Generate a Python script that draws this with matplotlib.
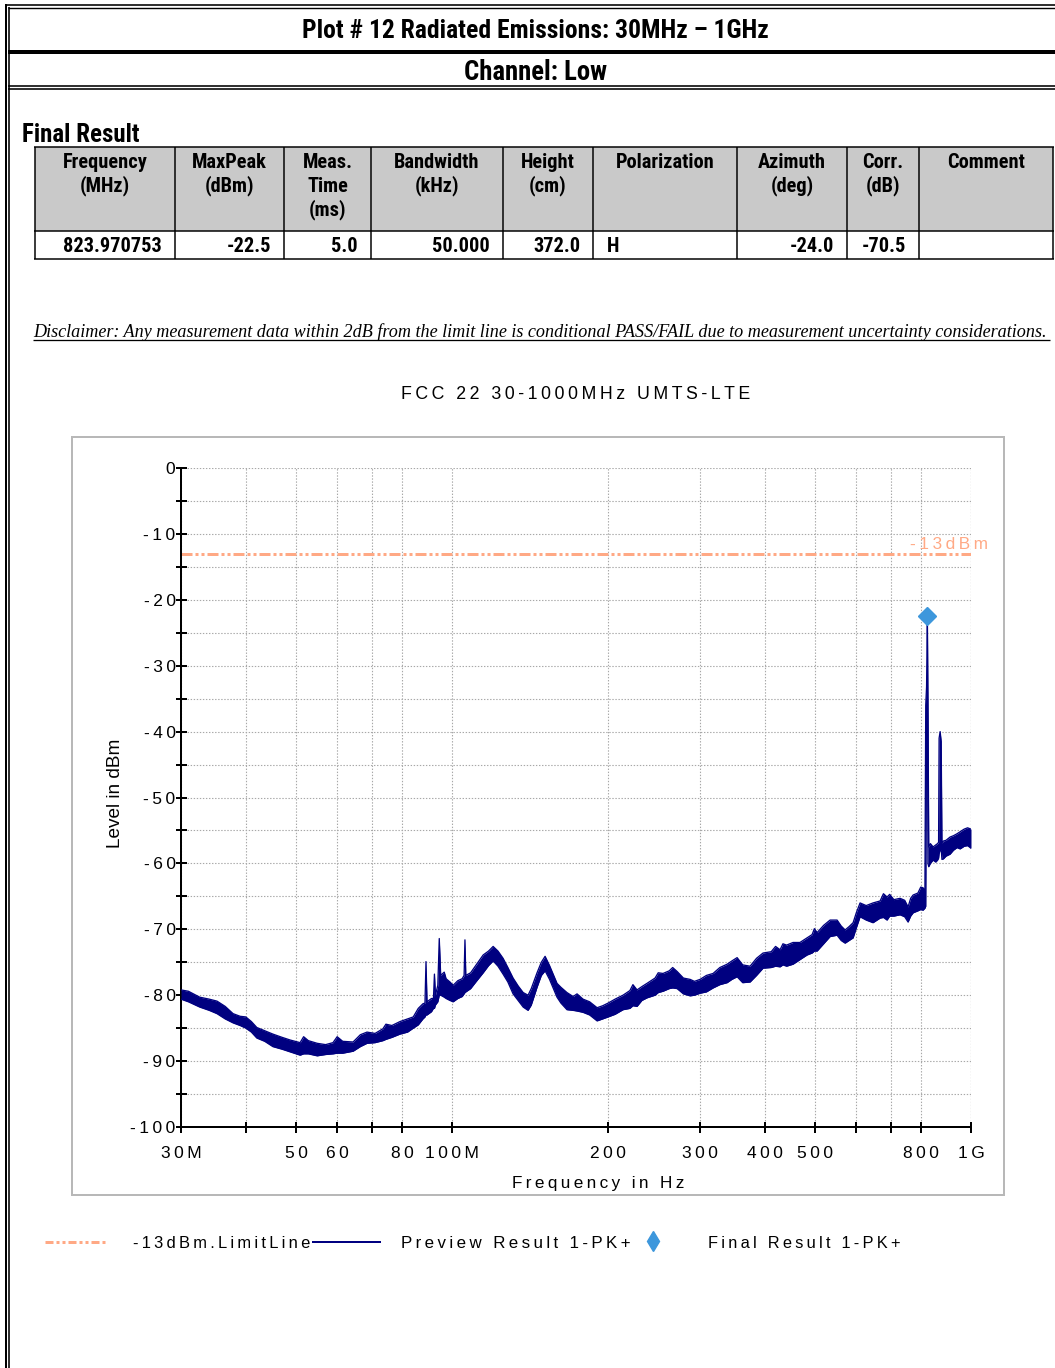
import matplotlib
matplotlib.use("Agg")
import matplotlib.pyplot as plt
from matplotlib import font_manager as fm
from matplotlib.font_manager import FontProperties
from matplotlib.lines import Line2D
from matplotlib.patches import Rectangle
from matplotlib.ticker import FixedLocator, FixedFormatter, MultipleLocator, NullLocator

# ---------------- report header and result table ----------------
report_title = "Plot # 12 Radiated Emissions: 30MHz \u2013 1GHz"
channel_label = "Channel: Low"
table_caption = "Final Result"
table_columns = ["Frequency\n(MHz)", "MaxPeak\n(dBm)", "Meas.\nTime\n(ms)", "Bandwidth\n(kHz)",
                 "Height\n(cm)", "Polarization", "Azimuth\n(deg)", "Corr.\n(dB)", "Comment"]
table_row = ["823.970753", "-22.5", "5.0", "50.000", "372.0", "H", "-24.0", "-70.5", ""]
disclaimer = ("Disclaimer: Any measurement data within 2dB from the limit line is conditional "
              "PASS/FAIL due to measurement uncertainty considerations.")

# ---------------- chart texts and scales ----------------
chart_title = "FCC 22 30-1000MHz UMTS-LTE"
x_label = "Frequency in Hz"
y_label = "Level in dBm"
limit_dbm = -13
legend_labels = ["-13dBm.LimitLine", "Preview Result 1-PK+", "Final Result 1-PK+"]

x_tick_mhz = [30, 40, 50, 60, 70, 80, 100, 200, 300, 400, 500, 600, 700, 800, 1000]
x_tick_labels = ["30M", "", "50", "60", "", "80", "100M", "200", "300", "400", "500", "", "", "800", "1G"]
y_tick_dbm = [0, -10, -20, -30, -40, -50, -60, -70, -80, -90, -100]
y_tick_labels = ["0", "-10", "-20", "-30", "-40", "-50", "-60", "-70", "-80", "-90", "-100"]

# ---------------- preview scan (peak detector), upper / lower edge of the trace ----------------
preview_freq_mhz = [
    30.0, 31.0, 32.6, 34.0, 35.2, 36.5, 37.8, 39.0, 40.0, 41.0,
    42.0, 43.5, 45.1, 47.0, 48.7, 50.9, 51.7, 52.8, 54.9, 57.0,
    58.9, 60.0, 61.5, 64.4, 66.5, 68.5, 71.0, 73.5, 74.5, 76.5,
    79.3, 82.0, 84.1, 86.0, 87.8, 88.6, 89.0, 89.4, 91.2, 92.0,
    92.4, 92.8, 93.8, 94.4, 95.0, 96.5, 97.3, 99.0, 100.4, 102.5,
    104.5, 105.4, 105.8, 106.2, 108.5, 111.0, 114.7, 117.5, 119.9, 122.5,
    125.3, 128.0, 131.0, 134.0, 137.0, 140.0, 142.0, 145.7, 148.5, 151.0,
    154.0, 159.2, 162.0, 166.4, 171.0, 174.0, 178.7, 184.0, 190.2, 195.0,
    199.7, 206.0, 213.4, 220.0, 223.0, 227.1, 232.0, 237.4, 246.0, 249.5,
    254.9, 262.0, 266.0, 271.3, 279.0, 287.4, 293.0, 300.4, 309.0, 318.3,
    328.0, 338.7, 346.0, 354.1, 363.0, 375.1, 386.0, 397.3, 412.0, 420.0,
    428.5, 434.0, 441.0, 453.8, 468.0, 483.0, 494.0, 499.0, 505.1, 520.0,
    535.0, 551.9, 562.0, 571.9, 582.0, 592.6, 601.0, 611.2, 628.0, 647.3,
    668.0, 678.0, 689.0, 697.0, 710.0, 729.9, 745.0, 756.3, 765.0, 773.4,
    790.0, 800.0, 808.4, 815.0, 818.0, 821.0, 823.97, 826.0, 829.0, 835.0,
    845.2, 855.0, 862.0, 866.0, 868.0, 872.0, 876.0, 879.0, 885.0, 895.0,
    911.3, 925.0, 940.0, 952.8, 970.0, 985.0, 1000.0,
]
preview_upper_dbm = [
    -79.2, -79.4, -80.3, -80.6, -80.9, -81.7, -82.8, -83.2, -83.3, -84.0,
    -84.9, -85.4, -85.9, -86.4, -86.8, -87.2, -86.3, -86.9, -87.3, -87.5,
    -87.2, -86.3, -87.0, -87.1, -86.0, -85.6, -85.8, -85.1, -84.4, -84.6,
    -84.0, -83.6, -83.3, -82.0, -81.3, -81.2, -74.9, -81.0, -80.5, -80.5,
    -76.8, -80.0, -78.5, -71.4, -77.0, -76.5, -77.5, -78.0, -78.5, -77.8,
    -77.5, -77.0, -71.6, -77.0, -76.6, -75.5, -73.9, -73.3, -72.6, -73.3,
    -74.4, -75.8, -77.4, -78.6, -79.6, -80.0, -79.0, -76.6, -75.0, -74.1,
    -75.5, -78.2, -78.8, -79.6, -80.2, -79.8, -80.6, -81.0, -81.9, -81.6,
    -81.2, -80.6, -80.0, -79.3, -78.4, -79.2, -78.7, -78.2, -77.4, -76.6,
    -76.7, -76.3, -75.8, -76.4, -77.4, -77.6, -77.9, -77.6, -77.0, -76.7,
    -75.8, -75.3, -74.8, -74.3, -75.4, -75.6, -74.4, -73.6, -73.4, -72.6,
    -73.1, -72.2, -72.4, -72.0, -72.0, -71.3, -70.8, -69.9, -70.5, -69.4,
    -68.6, -68.6, -69.5, -70.1, -69.6, -69.0, -67.5, -66.0, -66.4, -66.0,
    -65.7, -64.6, -65.1, -64.7, -65.5, -65.3, -65.6, -66.6, -65.3, -64.8,
    -64.5, -63.6, -63.7, -64.2, -36.0, -33.2, -22.5, -35.0, -57.5, -57.0,
    -57.5, -57.2, -57.0, -56.8, -41.0, -40.0, -41.5, -56.9, -56.6, -56.5,
    -56.0, -55.8, -55.5, -55.2, -54.8, -54.6, -54.8,
]
preview_lower_dbm = [
    -80.6, -81.0, -81.8, -82.3, -82.8, -83.6, -84.2, -84.6, -85.0, -85.6,
    -86.5, -87.0, -87.8, -88.2, -88.6, -89.1, -88.9, -88.9, -89.2, -89.0,
    -88.9, -88.8, -88.8, -88.5, -87.8, -87.3, -87.2, -86.9, -86.7, -86.4,
    -85.9, -85.6, -85.0, -84.5, -83.6, -83.3, -83.0, -83.0, -82.5, -82.0,
    -82.0, -81.5, -81.0, -80.0, -80.0, -80.3, -80.5, -80.8, -81.0, -80.5,
    -80.2, -79.8, -79.6, -79.5, -79.0, -78.0, -76.6, -75.5, -74.8, -75.6,
    -76.8, -78.0, -79.8, -80.8, -81.8, -82.3, -81.5, -78.8, -77.0, -76.3,
    -77.6, -80.3, -81.2, -82.2, -82.3, -82.4, -82.6, -83.0, -83.9, -83.6,
    -83.3, -82.9, -82.2, -82.0, -81.6, -81.7, -80.8, -80.4, -80.0, -79.6,
    -79.4, -79.0, -78.9, -79.0, -79.8, -80.1, -80.0, -79.7, -79.5, -78.9,
    -78.4, -78.1, -77.6, -77.2, -78.1, -78.0, -77.0, -75.9, -75.8, -75.6,
    -75.7, -75.4, -75.6, -75.3, -74.6, -73.9, -73.6, -73.3, -73.3, -72.2,
    -71.1, -70.9, -71.7, -72.1, -71.7, -71.3, -69.8, -68.1, -68.6, -69.0,
    -68.3, -68.2, -68.6, -68.0, -68.0, -67.8, -68.1, -68.9, -68.0, -67.5,
    -67.2, -67.0, -67.1, -66.8, -66.5, -37.2, -34.0, -60.0, -60.5, -60.0,
    -59.5, -59.8, -59.5, -59.2, -58.5, -58.0, -57.8, -59.4, -59.3, -58.9,
    -58.6, -58.0, -57.6, -57.8, -57.4, -57.3, -57.7,
]
assert len(preview_freq_mhz) == len(preview_upper_dbm) == len(preview_lower_dbm)

final_freq_mhz = float(table_row[0])
final_level_dbm = float(table_row[1])

# ---------------- drawing ----------------
W, H, DPI = 1055, 1368, 100
NAVY = "#000080"
SALMON = "#ffa985"
DIAMOND = "#3d97dc"
THIN = "\u2009"
SANS = ["Liberation Sans", "DejaVu Sans"]
SERIF = ["Liberation Serif", "DejaVu Serif"]

plt.rcParams["font.family"] = SANS
plt.rcParams["lines.scale_dashes"] = False


def _num_weight(w):
    if isinstance(w, str):
        return {"bold": 700, "heavy": 800, "black": 900, "semibold": 600, "demibold": 600,
                "medium": 500}.get(w.lower(), 400)
    return int(w)


def condensed_bold():
    """Pick a narrow bold sans face for the report headings, if one is installed."""
    prefs = ["liberation sans narrow", "arial narrow", "roboto condensed", "noto sans",
             "open sans", "dejavu sans"]
    best = None
    for f in fm.fontManager.ttflist:
        name = f.name.lower()
        stretch = str(f.stretch).lower()
        narrow = ("narrow" in name or "condensed" in name or stretch in ("condensed", "semi-condensed"))
        if not narrow or f.style != "normal" or _num_weight(f.weight) < 600:
            continue
        if "extra" in name or "ultra" in name or "extra" in stretch or "ultra" in stretch:
            continue
        rank = next((i for i, p in enumerate(prefs) if name.startswith(p)), len(prefs))
        if "semi" in name or "semi" in stretch:
            rank += 0.5
        if best is None or rank < best[0]:
            best = (rank, f.fname)
    if best is None:
        return dict(family=SANS, fontweight="bold")
    return dict(fontproperties=FontProperties(fname=best[1]))


HEAD = condensed_bold()

fig = plt.figure(figsize=(W / DPI, H / DPI), dpi=DPI)
fig.patch.set_facecolor("white")
renderer = fig.canvas.get_renderer()


def fx(px):
    return px / W


def fy(py):
    return 1 - py / H


def pt(px):
    return px * 72.0 / DPI


def spaced(s):
    return THIN.join(s)


def fit(t, target, use_height=False):
    bb = t.get_window_extent(renderer)
    cur = bb.height if use_height else bb.width
    t.set_fontsize(t.get_fontsize() * target / cur)
    return t


def head_text(x, y, s, size, **kw):
    if "fontproperties" in HEAD:
        fp = HEAD["fontproperties"].copy()
        fp.set_size(size)
        return fig.text(x, y, s, fontproperties=fp, **kw)
    return fig.text(x, y, s, fontsize=size, family=HEAD["family"], fontweight="bold", **kw)


def hline(y, x0, x1, w, color="black"):
    fig.add_artist(Line2D([fx(x0), fx(x1)], [fy(y), fy(y)], color=color, lw=pt(w),
                          solid_capstyle="butt"))


def vline(x, y0, y1, w, color="black"):
    fig.add_artist(Line2D([fx(x), fx(x)], [fy(y0), fy(y1)], color=color, lw=pt(w),
                          solid_capstyle="butt"))


# page frame
vline(6, 3.9, H, 2.0)
vline(9, 7.0, H, 1.6)
hline(4.7, 5, W, 1.6)
hline(7.7, 8.2, W, 1.4)
hline(52, 8.2, W, 4.0)
hline(85.8, 8.2, W, 1.6)
hline(89.0, 8.2, W, 1.6)

fit(head_text(fx(535), fy(31), report_title, 16, ha="center", va="center"), 466)
fit(head_text(fx(535), fy(72), channel_label, 16, ha="center", va="center"), 143)
fit(head_text(fx(22), fy(135), table_caption, 16, ha="left", va="center"), 118)

# result table
col_x = [35, 175, 284, 371, 503, 593, 737, 847, 919, 1053]
tab_top, tab_mid, tab_bot = 147, 231, 259
fig.add_artist(Rectangle((fx(col_x[0]), fy(tab_mid)), fx(col_x[-1]) - fx(col_x[0]),
                         fy(tab_top) - fy(tab_mid), facecolor="#c9c9c9", edgecolor="none"))
for y in (tab_top, tab_mid, tab_bot):
    hline(y, col_x[0] - 0.7, col_x[-1] + 0.7, 1.5)
for x in col_x:
    vline(x, tab_top, tab_bot, 1.5)

probe = head_text(0, 0, "Polarization", 14)
fit(probe, 99)
tab_fs = probe.get_fontsize()
probe.remove()

for i, head in enumerate(table_columns):
    cx = (col_x[i] + col_x[i + 1]) / 2
    for j, line in enumerate(head.split("\n")):
        head_text(fx(cx), fy(162 + 24 * j), line, tab_fs, ha="center", va="center")
for i, val in enumerate(table_row):
    if not val:
        continue
    if val.replace(".", "").replace("-", "").isdigit():
        head_text(fx(col_x[i + 1] - 13), fy(246), val, tab_fs, ha="right", va="center")
    else:
        head_text(fx(col_x[i] + 14), fy(246), val, tab_fs, ha="left", va="center")

# disclaimer with underline
t = fig.text(fx(33), fy(332), disclaimer, ha="left", va="center", fontsize=12,
             style="italic", family=SERIF)
fit(t, 1017)
hline(340, 33, 1050, 1.3)

# chart frame
fig.add_artist(Rectangle((fx(72), fy(1195)), fx(1004) - fx(72), fy(437) - fy(1195),
                         fill=False, edgecolor="#b8b8b8", lw=pt(2)))

# spectrum axes
ax_l, ax_r, ax_t, ax_b = 181, 971, 468, 1127
ax = fig.add_axes([fx(ax_l), fy(ax_b), fx(ax_r) - fx(ax_l), fy(ax_t) - fy(ax_b)])
ax.set_xscale("log")
ax.set_xlim(30, 1000)
ax.set_ylim(-100, 0)
ax.set_axisbelow(True)

ax.xaxis.set_major_locator(FixedLocator(x_tick_mhz))
ax.xaxis.set_major_formatter(FixedFormatter([spaced(s) for s in x_tick_labels]))
ax.xaxis.set_minor_locator(NullLocator())
ax.yaxis.set_major_locator(FixedLocator(y_tick_dbm))
ax.yaxis.set_major_formatter(FixedFormatter([spaced(s) for s in y_tick_labels]))
ax.yaxis.set_minor_locator(MultipleLocator(5))

for s in ("top", "right"):
    ax.spines[s].set_visible(False)
for s in ("left", "bottom"):
    ax.spines[s].set_linewidth(pt(2))
ax.tick_params(which="both", direction="inout", length=pt(11), width=pt(2), colors="black")
ax.tick_params(axis="x", labelsize=12.5, pad=pt(13))
ax.tick_params(axis="y", labelsize=12.5, pad=0)

grid_kw = dict(color="#a8a8a8", lw=pt(1.1), linestyle=(0, (1.0, 1.2)))
ax.grid(True, which="major", axis="both", **grid_kw)
ax.grid(True, which="minor", axis="y", **grid_kw)
ax.axvline(1000, **grid_kw, zorder=0.5)

ax.set_title(spaced(chart_title), fontsize=12, pad=pt(69))
fit(ax.title, 350)
ax.set_xlabel(spaced(x_label), fontsize=12)
fit(ax.xaxis.label, 173)
ax.xaxis.set_label_coords((598 - ax_l) / (ax_r - ax_l), -(1176 - ax_b) / (ax_b - ax_t))
ax.set_ylabel(y_label, fontsize=12)
fit(ax.yaxis.label, 110, use_height=True)
ax.yaxis.set_label_coords(-(ax_l - 124) / (ax_r - ax_l), (ax_b - 793) / (ax_b - ax_t))

limit_dash = (0, (pt(11), pt(3), pt(3), pt(3), pt(3), pt(3)))
ax.axhline(limit_dbm, color=SALMON, lw=pt(3), linestyle=limit_dash, zorder=2)
t = ax.text(763, limit_dbm + 0.7, spaced(f"{limit_dbm}dBm"), color=SALMON, ha="left",
            va="baseline", fontsize=12, clip_on=False)
fit(t, 78)

ax.fill_between(preview_freq_mhz, preview_lower_dbm, preview_upper_dbm, color=NAVY, lw=0,
                zorder=3)
ax.plot(preview_freq_mhz, preview_upper_dbm, color=NAVY, lw=pt(1.3), zorder=3)
ax.plot(preview_freq_mhz, preview_lower_dbm, color=NAVY, lw=pt(1.3), zorder=3)
ax.plot([final_freq_mhz], [final_level_dbm], marker="D", ms=pt(13), color=DIAMOND,
        mec=DIAMOND, lw=0, zorder=5, clip_on=False)

# legend row
ly = 1242
fig.add_artist(Line2D([fx(45), fx(108)], [fy(ly), fy(ly)], color=SALMON, lw=pt(3),
                      linestyle=(0, (pt(8), pt(3), pt(3), pt(3), pt(3), pt(3)))))
fig.add_artist(Line2D([fx(313), fx(380)], [fy(ly), fy(ly)], color=NAVY, lw=pt(2)))
fig.add_artist(Line2D([fx(653)], [fy(ly - 1)], marker="d", ms=pt(13.5), color=DIAMOND,
                      mec=DIAMOND, lw=0))
for x0, width, label in ((133, 178, legend_labels[0]), (401, 229, legend_labels[1]),
                         (708, 194, legend_labels[2])):
    t = fig.text(fx(x0), fy(ly + 1), spaced(label), ha="left", va="center", fontsize=12)
    fit(t, width)

fig.savefig("out.png", dpi=DPI, facecolor="white")
